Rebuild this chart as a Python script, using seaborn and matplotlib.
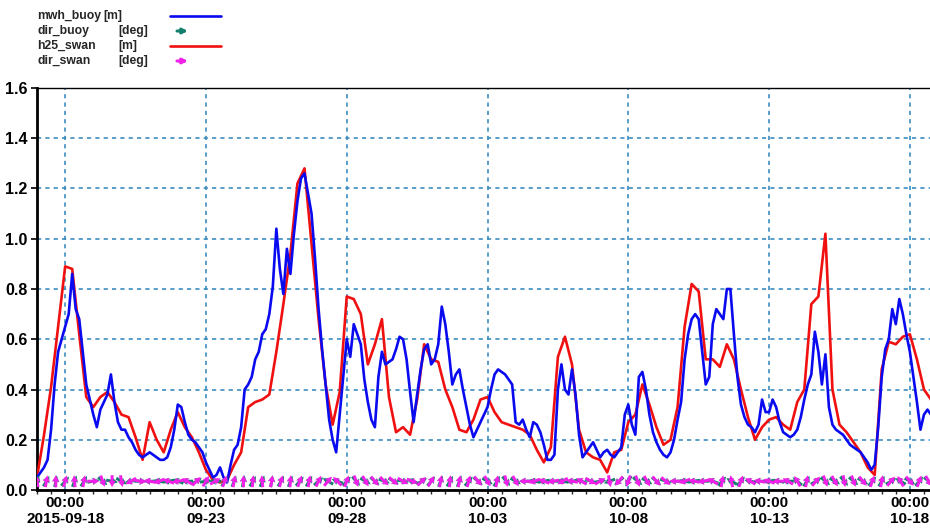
import numpy as np
import pandas as pd
import seaborn as sns
import matplotlib
matplotlib.use("Agg")
from matplotlib import pyplot as plt
from matplotlib.lines import Line2D
import matplotlib.dates as mdates
import matplotlib.ticker as mticker

# start of the record
start = pd.Timestamp("2015-09-17 00:00")

# buoy wave height [m], every 3 hours
mwh_buoy = [0.05, 0.07, 0.09, 0.12, 0.24, 0.42, 0.55, 0.60, 0.65, 0.70,
            0.86, 0.72, 0.68, 0.55, 0.42, 0.36, 0.30, 0.25, 0.32, 0.35,
            0.38, 0.46, 0.35, 0.27, 0.24, 0.24, 0.21, 0.19, 0.16, 0.14,
            0.13, 0.14, 0.15, 0.14, 0.13, 0.12, 0.12, 0.13, 0.17, 0.24,
            0.34, 0.33, 0.27, 0.22, 0.20, 0.19, 0.17, 0.15, 0.11, 0.08,
            0.05, 0.06, 0.09, 0.05, 0.03, 0.10, 0.16, 0.18, 0.25, 0.40,
            0.42, 0.45, 0.52, 0.55, 0.62, 0.64, 0.70, 0.81, 1.04, 0.88,
            0.78, 0.96, 0.86, 1.02, 1.15, 1.24, 1.26, 1.18, 1.10, 0.92,
            0.72, 0.56, 0.42, 0.28, 0.20, 0.15, 0.30, 0.45, 0.60, 0.53,
            0.66, 0.62, 0.58, 0.44, 0.35, 0.28, 0.25, 0.45, 0.55, 0.50,
            0.51, 0.52, 0.56, 0.61, 0.60, 0.52, 0.39, 0.27, 0.38, 0.48,
            0.56, 0.58, 0.50, 0.52, 0.58, 0.73, 0.66, 0.55, 0.42, 0.46,
            0.48, 0.40, 0.33, 0.26, 0.21, 0.24, 0.27, 0.30, 0.33, 0.40,
            0.46, 0.48, 0.47, 0.46, 0.44, 0.42, 0.27, 0.26, 0.28, 0.24,
            0.21, 0.27, 0.26, 0.23, 0.18, 0.12, 0.12, 0.14, 0.40, 0.50,
            0.40, 0.38, 0.48, 0.38, 0.22, 0.13, 0.15, 0.17, 0.19, 0.16,
            0.13, 0.15, 0.16, 0.14, 0.13, 0.15, 0.17, 0.30, 0.34, 0.26,
            0.22, 0.45, 0.47, 0.40, 0.30, 0.23, 0.19, 0.16, 0.14, 0.13,
            0.15, 0.20, 0.28, 0.35, 0.52, 0.62, 0.68, 0.70, 0.68, 0.55,
            0.42, 0.45, 0.66, 0.72, 0.70, 0.68, 0.80, 0.80, 0.62, 0.45,
            0.34, 0.29, 0.26, 0.25, 0.23, 0.26, 0.36, 0.31, 0.31, 0.36,
            0.33, 0.27, 0.23, 0.22, 0.21, 0.22, 0.24, 0.29, 0.36, 0.42,
            0.46, 0.63, 0.55, 0.42, 0.54, 0.33, 0.26, 0.24, 0.23, 0.22,
            0.20, 0.18, 0.17, 0.16, 0.15, 0.13, 0.11, 0.08, 0.10, 0.25,
            0.45, 0.56, 0.60, 0.72, 0.66, 0.76, 0.70, 0.62, 0.55, 0.45,
            0.35, 0.24, 0.30, 0.32, 0.30]

# swan wave height [m], every 6 hours
h25_swan = [0.05, 0.22, 0.41, 0.65, 0.89, 0.88, 0.62, 0.37, 0.33, 0.37,
            0.39, 0.35, 0.30, 0.29, 0.21, 0.12, 0.27, 0.20, 0.15, 0.24,
            0.31, 0.25, 0.21, 0.15, 0.08, 0.04, 0.03, 0.04, 0.10, 0.15,
            0.33, 0.35, 0.36, 0.38, 0.55, 0.74, 0.94, 1.22, 1.28, 0.98,
            0.68, 0.42, 0.26, 0.39, 0.77, 0.76, 0.70, 0.50, 0.58, 0.68,
            0.37, 0.23, 0.25, 0.22, 0.36, 0.58, 0.52, 0.51, 0.40, 0.33,
            0.24, 0.23, 0.28, 0.36, 0.37, 0.31, 0.27, 0.26, 0.25, 0.24,
            0.22, 0.16, 0.11, 0.17, 0.53, 0.61, 0.50, 0.24, 0.15, 0.13,
            0.12, 0.07, 0.15, 0.16, 0.27, 0.30, 0.42, 0.34, 0.25, 0.18,
            0.20, 0.33, 0.65, 0.82, 0.79, 0.52, 0.52, 0.49, 0.58, 0.52,
            0.40, 0.29, 0.20, 0.25, 0.28, 0.29, 0.26, 0.24, 0.35, 0.40,
            0.74, 0.77, 1.02, 0.40, 0.26, 0.23, 0.19, 0.15, 0.09, 0.06,
            0.48, 0.59, 0.58, 0.61, 0.62, 0.52, 0.40, 0.36]

# wave directions [deg, pointing to], every 8 hours
dir_buoy = [20, 30, 10, 40, 20, 30, 80, 130, 100, 120, 260, 90, 270, 280, 260, 290,
            270, 60, 80, 270, 30, 20, 10, 30, 20, 10, 30, 20, 40, 30, 50, 300,
            290, 40, 140, 120, 130, 110, 120, 100, 290, 60, 40, 20, 30, 20, 40, 130,
            120, 30, 140, 120, 270, 280, 260, 270, 280, 260, 290, 110, 80, 250, 230, 210,
            130, 120, 130, 110, 270, 280, 260, 270, 290, 40, 300, 40, 280, 270, 260, 280,
            270, 310, 30, 60, 130, 120, 140, 130, 120, 40, 30, 60, 300, 120, 40, 130]
dir_swan = [350, 10, 0, 15, 355, 10, 90, 160, 180, 170, 240, 100, 280, 250, 290, 260,
            300, 45, 30, 60, 20, 10, 0, 5, 355, 10, 15, 5, 20, 10, 25, 40,
            315, 20, 160, 150, 140, 135, 130, 120, 110, 45, 30, 10, 5, 10, 15, 140,
            150, 10, 165, 150, 270, 250, 290, 260, 240, 280, 300, 120, 60, 170, 220, 200,
            160, 150, 140, 130, 270, 250, 280, 260, 300, 10, 350, 20, 300, 280, 290, 270,
            300, 330, 10, 40, 160, 150, 170, 160, 140, 20, 10, 40, 330, 140, 20, 150]
arrow_level = 0.035

tick_dates = ["2015-09-18", "2015-09-23", "2015-09-28", "2015-10-03",
              "2015-10-08", "2015-10-13", "2015-10-18"]
tick_labels = ["00:00\n2015-09-18", "00:00\n09-23", "00:00\n09-28", "00:00\n10-03",
               "00:00\n10-08", "00:00\n10-13", "00:00\n10-18"]

buoy = pd.DataFrame({"time": pd.date_range(start, periods=len(mwh_buoy), freq="3h"),
                     "hs": mwh_buoy})
swan = pd.DataFrame({"time": pd.date_range(start, periods=len(h25_swan), freq="6h"),
                     "hs": h25_swan})
dir_time = pd.date_range(start, periods=len(dir_swan), freq="8h")

sns.set_theme(style="white")
plt.rcParams["font.family"] = ["Liberation Sans", "DejaVu Sans"]
plt.rcParams["font.weight"] = "bold"

fig = plt.figure(figsize=(9.3, 5.29), dpi=100)
ax = fig.add_axes([37 / 930, 39 / 529, 894 / 930, 402 / 529])

grid_col = "#3b8cc0"
sns.lineplot(data=buoy, x="time", y="hs", ax=ax, color="#0a0af0", lw=1.9, zorder=4)
sns.lineplot(data=swan, x="time", y="hs", ax=ax, color="#f01010", lw=1.9, zorder=3)

# direction arrows along the bottom
xd = mdates.date2num(dir_time.to_pydatetime())
for dirs, col, z in [(dir_buoy, "#13806e", 5), (dir_swan, "#f020e8", 6)]:
    th = np.radians(dirs)
    ax.quiver(xd, np.full(len(xd), arrow_level), np.sin(th), np.cos(th),
              angles="uv", units="dots", scale_units="dots", scale=1 / 12,
              width=3.0, headwidth=2.4, headlength=2.2, headaxislength=2.0,
              pivot="middle", color=col, zorder=z)

ax.set_xlim(start, start + pd.Timedelta(hours=762))
ax.set_ylim(0, 1.6)
ax.xaxis.set_major_locator(mticker.FixedLocator(mdates.date2num(pd.to_datetime(tick_dates).to_pydatetime())))
ax.xaxis.set_major_formatter(mticker.FixedFormatter(tick_labels))
ax.xaxis.set_minor_locator(mdates.HourLocator(byhour=[0, 12]))
ax.yaxis.set_major_locator(mticker.MultipleLocator(0.2))
ax.yaxis.set_major_formatter(mticker.FormatStrFormatter("%.1f"))
ax.set_xlabel("")
ax.set_ylabel("")

ax.grid(True, which="major", color=grid_col, linestyle=(0, (2.5, 2.5)), lw=1.2)
ax.tick_params(axis="y", which="major", labelsize=11.5, length=4, width=1.2,
               direction="out", colors="black", pad=3, left=True)
ax.tick_params(axis="x", which="major", labelsize=11, length=3, width=1.2,
               direction="out", colors="black", pad=1, bottom=True)
ax.tick_params(axis="x", which="minor", length=3, width=1, direction="out", bottom=True)
for lab in ax.get_xticklabels() + ax.get_yticklabels():
    lab.set_fontweight("bold")
for lab in ax.get_xticklabels():
    lab.set_linespacing(1.25)

ax.spines["left"].set_linewidth(2)
ax.spines["bottom"].set_linewidth(2)
ax.spines["top"].set_linewidth(1)
ax.spines["right"].set_visible(False)
for s in ax.spines.values():
    s.set_color("black")

# legend drawn above the plot
leg_rows = [("mwh_buoy", "[m]", 103, "line", "#0a0af0"),
            ("dir_buoy", "[deg]", 118, "arrow", "#13806e"),
            ("h25_swan", "[m]", 118, "line", "#f01010"),
            ("dir_swan", "[deg]", 118, "arrow", "#f020e8")]
H = 529
for i, (name, unit, ux, kind, col) in enumerate(leg_rows):
    yp = 16 + i * 15
    fig.text(37 / 930, 1 - yp / H, name, fontsize=8.8, fontweight="bold", va="center")
    fig.text(ux / 930, 1 - yp / H, unit, fontsize=8.8, fontweight="bold", va="center")
    if kind == "line":
        fig.add_artist(Line2D([170 / 930, 221 / 930], [1 - yp / H, 1 - yp / H],
                              color=col, lw=1.9))
    else:
        ax.annotate("", xy=(188, H - yp), xytext=(177, H - yp), xycoords="figure pixels",
                    textcoords="figure pixels", annotation_clip=False,
                    arrowprops=dict(arrowstyle="-|>", color=col, lw=2.2,
                                    mutation_scale=7, shrinkA=0, shrinkB=0))

fig.savefig("out.png", dpi=100)
